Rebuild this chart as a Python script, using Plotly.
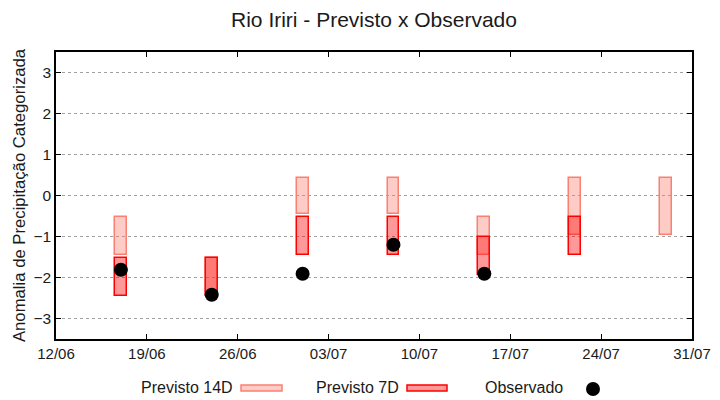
import plotly.graph_objects as go

# ---- data ----
dates = ["2024-06-17", "2024-06-24", "2024-07-01", "2024-07-08",
         "2024-07-15", "2024-07-22", "2024-07-29"]
p14_low = [-1.45, -2.45, -0.45, -0.45, -1.45, -0.97, -0.96]
p14_high = [-0.52, -1.52, 0.43, 0.43, -0.52, 0.43, 0.43]
p7_low = [-2.45, -2.45, -1.45, -1.45, -1.95, -1.45, None]
p7_high = [-1.52, -1.52, -0.52, -0.52, -1.00, -0.52, None]
observado = [-1.81, -2.42, -1.91, -1.20, -1.91, None, None]
tick_dates = ["2024-06-12", "2024-06-19", "2024-06-26", "2024-07-03",
              "2024-07-10", "2024-07-17", "2024-07-24", "2024-07-31"]
tick_labels = ["12/06", "19/06", "26/06", "03/07", "10/07", "17/07", "24/07", "31/07"]
y_ticks = [-3, -2, -1, 0, 1, 2, 3]

# ---- styles ----
FONT = "Liberation Sans"
TXT = "#1a1a1a"
C14_FILL = "rgba(250,128,114,0.4)"
C14_LINE = "#fa8072"
C7_FILL = "rgba(255,0,0,0.4)"
C7_LINE = "#ff0000"
DAY_MS = 86400000
BAR_W = 0.92 * DAY_MS

fig = go.Figure()

fig.add_trace(go.Bar(
    x=dates, base=p14_low,
    y=[h - l for h, l in zip(p14_high, p14_low)],
    width=BAR_W,
    marker=dict(color=C14_FILL, line=dict(color=C14_LINE, width=1.5)),
    name="Previsto 14D", showlegend=False, hoverinfo="skip",
))

d7 = [d for d, l in zip(dates, p7_low) if l is not None]
l7 = [l for l in p7_low if l is not None]
h7 = [h for h in p7_high if h is not None]
fig.add_trace(go.Bar(
    x=d7, base=l7,
    y=[h - l for h, l in zip(h7, l7)],
    width=BAR_W,
    marker=dict(color=C7_FILL, line=dict(color=C7_LINE, width=1.5)),
    name="Previsto 7D", showlegend=False, hoverinfo="skip",
))

fig.add_trace(go.Scatter(
    x=dates, y=observado, mode="markers",
    marker=dict(color="black", size=14),
    name="Observado", showlegend=False,
))

# ---- layout ----
ML, MR, MT, MB = 56, 28, 52, 61
W, H = 720, 400
PW, PH = W - ML - MR, H - MT - MB


def px(x):
    return (x - ML) / PW


def py(y):
    return (H - MB - y) / PH


fig.update_layout(
    width=W, height=H,
    margin=dict(l=ML, r=MR, t=MT, b=MB, pad=0, autoexpand=False),
    paper_bgcolor="white", plot_bgcolor="white",
    barmode="overlay", bargap=0,
    font=dict(family=FONT, color=TXT),
    title=dict(text="Rio Iriri - Previsto x Observado", x=0.5, xref="paper",
               y=1 - 20 / H, yanchor="middle", xanchor="center",
               font=dict(size=21, family=FONT, color=TXT)),
    xaxis=dict(
        type="date", range=["2024-06-12", "2024-07-31"],
        tickvals=tick_dates, ticktext=tick_labels,
        ticks="inside", ticklen=5, tickcolor="black",
        showline=True, linecolor="black", linewidth=1.5, mirror="ticks",
        showgrid=False, zeroline=False,
        tickfont=dict(size=15, family=FONT, color=TXT),
    ),
    yaxis=dict(
        range=[-3.5, 3.5], tickvals=y_ticks,
        ticks="inside", ticklen=5, tickcolor="black",
        showline=True, linecolor="black", linewidth=1.5, mirror="ticks",
        showgrid=True, gridcolor="#a0a0a0", griddash="dot", gridwidth=1,
        zeroline=False,
        tickfont=dict(size=15.5, family=FONT, color=TXT),
        title=dict(text="Anomalia de Precipitação Categorizada",
                   font=dict(size=16.7, family=FONT, color=TXT), standoff=4),
    ),
)

# ---- custom legend (text followed by sample, gnuplot style) ----
leg_y = 387
items = [
    ("Previsto 14D", 235, ("rect", 241, 282, C14_FILL, C14_LINE)),
    ("Previsto 7D", 401, ("rect", 407, 447, C7_FILL, C7_LINE)),
    ("Observado", 565, ("circle", 593, 593, "black", "black")),
]
for text, tx, (kind, x0, x1, fill, line) in items:
    fig.add_annotation(text=text, xref="paper", yref="paper",
                       x=px(tx), y=py(leg_y), xanchor="right", yanchor="middle",
                       showarrow=False, font=dict(size=16, family=FONT, color=TXT))
    if kind == "rect":
        fig.add_shape(type="rect", xref="paper", yref="paper",
                      x0=px(x0), x1=px(x1), y0=py(leg_y + 4), y1=py(leg_y - 2),
                      fillcolor=fill, line=dict(color=line, width=1.5))
    else:
        fig.add_shape(type="circle", xref="paper", yref="paper",
                      x0=px(x0 - 7), x1=px(x0 + 7), y0=py(leg_y + 9), y1=py(leg_y - 5),
                      fillcolor=fill, line=dict(color=line, width=0))

fig.write_html("out.html", config={"displayModeBar": False},
               post_script="document.body.style.margin='0';")
